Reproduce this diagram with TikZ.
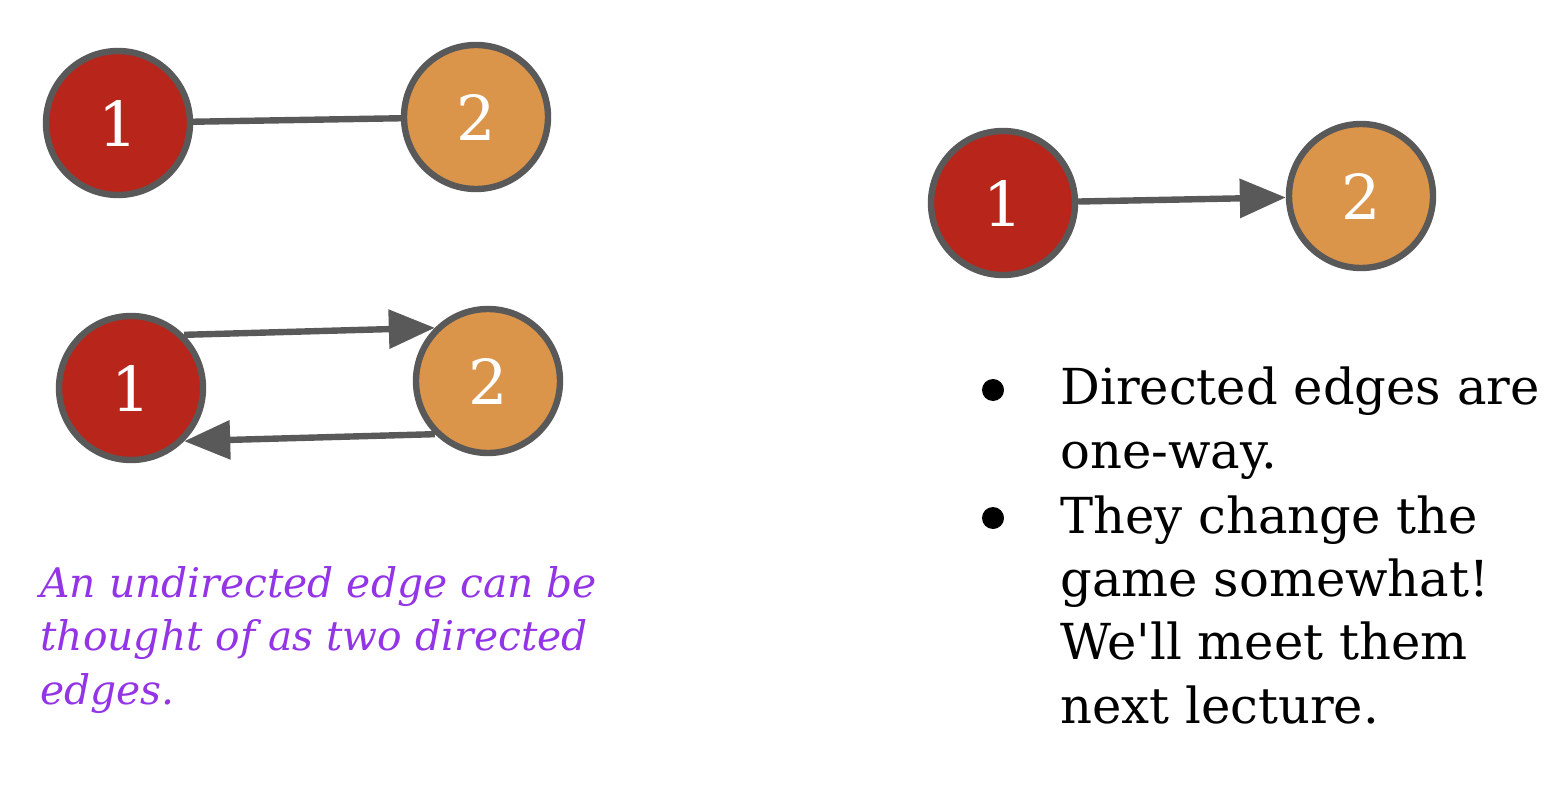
\documentclass[tikz,border=0pt]{standalone}
\usepackage{fontspec}
\setmainfont{DejaVu Serif}
\usetikzlibrary{arrows.meta}
\definecolor{nred}{HTML}{B8261B}
\definecolor{norange}{HTML}{DA954B}
\definecolor{ngray}{HTML}{595959}
\definecolor{npurple}{HTML}{9334E6}
\tikzset{
  vert/.style={circle, draw=ngray, line width=3.2pt, minimum size=72pt, inner sep=0pt,
    text=white, font=\fontsize{31pt}{32pt}\selectfont},
  redv/.style={vert, fill=nred},
  orv/.style={vert, fill=norange},
  edgeline/.style={draw=ngray, line width=3.2pt},
  diredge/.style={edgeline, -{Triangle[length=23pt,width=19pt]}},
  bodytext/.style={anchor=base west, inner sep=0pt, font=\fontsize{24.8pt}{32pt}\selectfont},
  notetext/.style={anchor=base west, inner sep=0pt, text=npurple, font=\fontsize{20.4pt}{27pt}\selectfont\itshape},
  bulletdot/.style={circle, fill=black, inner sep=0pt, minimum size=11pt}
}
\begin{document}
\begin{tikzpicture}[x=0.5pt, y=-0.5pt]
\useasboundingbox (0,0) rectangle (1556,796);
% top-left undirected
\node[redv] (a1) at (118,123) {1};
\node[orv] (a2) at (476,117) {2};
\draw[edgeline] (a1) -- (a2);
% middle two directed
\node[redv] (m1) at (131,388) {1};
\node[orv] (m2) at (488,381) {2};
\draw[diredge] (m1.45) -- (m2.135);
\draw[diredge] (m2.225) -- (m1.-45);
% right directed
\node[redv] (b1) at (1003,203) {1};
\node[orv] (b2) at (1361,196) {2};
\draw[diredge] (b1) -- (b2);
% note
\node[notetext] (n1) at (40,597) {An undirected edge can be};
\node[notetext] (n2) at (40,650) {thought of as two directed};
\node[notetext] (n3) at (40,704) {edges.};
% bullets
\node[bulletdot] (d1) at (993,390) {};
\node[bulletdot] (d2) at (993,518) {};
\node[bodytext] (t1) at (1060,404) {Directed edges are};
\node[bodytext] (t2) at (1060,468) {one-way.};
\node[bodytext] (t3) at (1060,533) {They change the};
\node[bodytext] (t4) at (1060,596) {game somewhat!};
\node[bodytext] (t5) at (1060,659) {We\textquotesingle ll meet them};
\node[bodytext] (t6) at (1060,723) {next lecture.};
\end{tikzpicture}
\end{document}
